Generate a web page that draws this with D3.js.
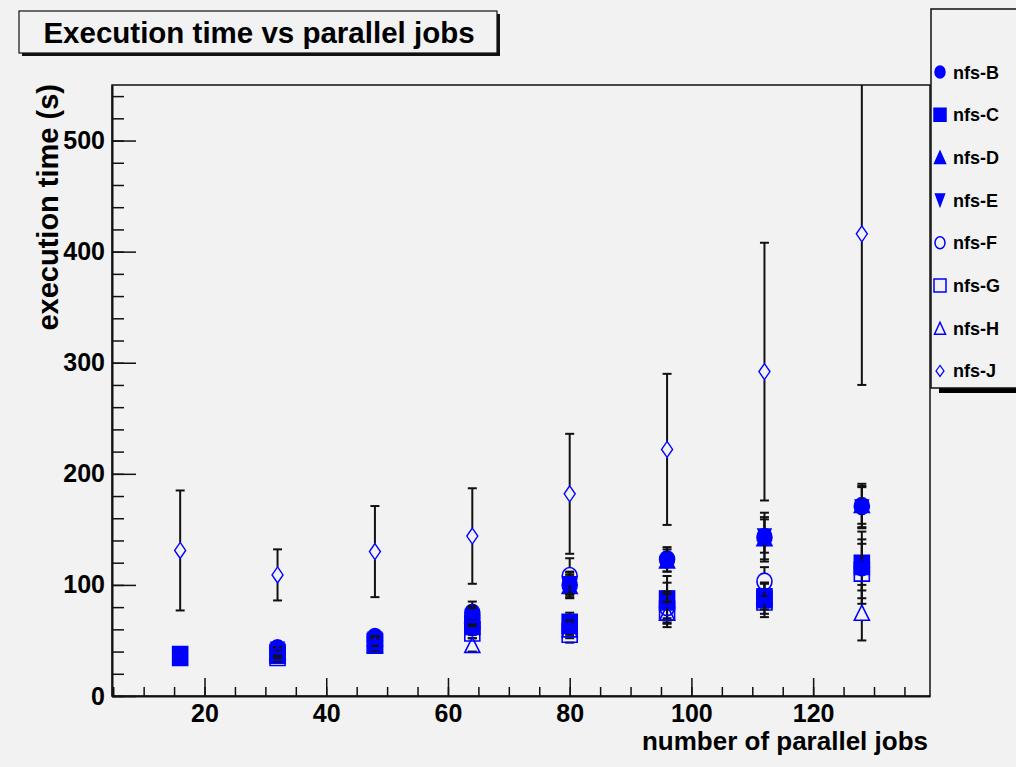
<!DOCTYPE html>
<html>
<head>
<meta charset="utf-8">
<script src="https://cdn.jsdelivr.net/npm/d3@7"></script>
<style>
  body { margin: 0; background: #f2f2f2; }
  text { font-family: "Liberation Sans", Arial, sans-serif; font-weight: bold; fill: #000; }
</style>
</head>
<body>
<div id="chart"></div>
<script>
//data
const jobs = [16, 32, 48, 64, 80, 96, 112, 128]

const nfsB = [null, 43, 53, 75, 100, 123, 143, 171]
const nfsC = [36, 38, 48, 64, 65, 86, 88, 118]
const nfsD = [null, 41, 52, 73, 99, 122, 142, 172]
const nfsE = [null, 42, 51, 71, 101, 88, 144, 170]
const nfsF = [null, 40, 50, 62, 108, 80, 103, 116]
const nfsG = [null, 36, 47, 58, 57, 77, 86, 112]
const nfsH = [null, 39, 46, 46, 60, 75, 90, 75]
const nfsJ = [131, 109, 130, 144, 182, 222, 292, 416]

const errB = [0, 6, 6, 10, 12, 11, 22, 20]
const errC = [0, 5, 8, 8, 10, 16, 14, 30]
const errD = [0, 5, 5, 8, 10, 10, 19, 17]
const errE = [0, 5, 5, 8, 10, 20, 15, 18]
const errF = [0, 4, 5, 7, 16, 14, 13, 21]
const errG = [0, 5, 7, 6, 9, 15, 15, 29]
const errH = [0, 5, 6, 6, 8, 10, 12, 25]
const errJ = [54, 23, 41, 43, 54, 68, 116, 136]

const seriesNames = ['nfs-B', 'nfs-C', 'nfs-D', 'nfs-E', 'nfs-F', 'nfs-G', 'nfs-H', 'nfs-J']
const xMajorTicks = [20, 40, 60, 80, 100, 120]
const yMajorTicks = [0, 100, 200, 300, 400, 500]

const series = [
  { name: seriesNames[0], values: nfsB, errors: errB, marker: 'circle', filled: true },
  { name: seriesNames[1], values: nfsC, errors: errC, marker: 'square', filled: true },
  { name: seriesNames[2], values: nfsD, errors: errD, marker: 'triUp', filled: true },
  { name: seriesNames[3], values: nfsE, errors: errE, marker: 'triDown', filled: true },
  { name: seriesNames[4], values: nfsF, errors: errF, marker: 'circle', filled: false },
  { name: seriesNames[5], values: nfsG, errors: errG, marker: 'square', filled: false },
  { name: seriesNames[6], values: nfsH, errors: errH, marker: 'triUp', filled: false },
  { name: seriesNames[7], values: nfsJ, errors: errJ, marker: 'diamond', filled: false },
]

//marker sizes (w, h) in the plot and in the legend
const plotSize = { circle: [15, 17], square: [15, 19], triUp: [15, 15], triDown: [13, 14], diamond: [11, 16] }
const legendSize = { circle: [10, 12], square: [12, 13], triUp: [11, 12], triDown: [9, 12], diamond: [8, 11] }

function markerPath(type, w, h) {
  const a = w / 2, b = h / 2
  if (type === 'circle') {
    return `M${-a},0A${a},${b} 0 1,0 ${a},0A${a},${b} 0 1,0 ${-a},0Z`
  } else if (type === 'square') {
    return `M${-a},${-b}H${a}V${b}H${-a}Z`
  } else if (type === 'triUp') {
    return `M0,${-b}L${a},${b}H${-a}Z`
  } else if (type === 'triDown') {
    return `M0,${b}L${a},${-b}H${-a}Z`
  }
  return `M0,${-b}L${a},0L0,${b}L${-a},0Z`
}

//dimensions
const width = 1016
const height = 767
const frame = { left: 112, right: 930, top: 85, bottom: 696 }
const blue = '#0000ff'

const svg = d3.select('#chart')
  .append('svg')
  .attr('width', width)
  .attr('height', height)

svg.append('rect')
  .attr('width', width)
  .attr('height', height)
  .attr('fill', '#f2f2f2')

//scales
const x = d3.scaleLinear()
  .domain([4.8, 139.2])
  .range([frame.left, frame.right])

const y = d3.scaleLinear()
  .domain([0, 550])
  .range([frame.bottom, frame.top])

//frame
svg.append('rect')
  .attr('x', frame.left)
  .attr('y', frame.top)
  .attr('width', frame.right - frame.left)
  .attr('height', frame.bottom - frame.top)
  .attr('fill', 'none')
  .attr('stroke', '#111')
  .attr('stroke-width', 1.5)

//axes, ticks pointing into the frame
svg.append('g')
  .attr('transform', `translate(0,${frame.bottom})`)
  .call(d3.axisBottom(x).tickValues(d3.range(5, 139, 5)).tickSizeInner(-9).tickSizeOuter(0).tickFormat(''))
  .call(g => g.select('.domain').remove())
  .call(g => g.selectAll('line').attr('stroke', '#111').attr('stroke-width', 1.5))

svg.append('g')
  .attr('transform', `translate(0,${frame.bottom})`)
  .call(d3.axisBottom(x).tickValues(xMajorTicks).tickSizeInner(-18).tickSizeOuter(0).tickPadding(8))
  .call(g => g.select('.domain').attr('stroke', '#111').attr('stroke-width', 2))
  .call(g => g.selectAll('line').attr('stroke', '#111').attr('stroke-width', 1.5))
  .call(g => g.selectAll('text').attr('font-size', 25).attr('font-family', '"Liberation Sans", Arial, sans-serif').attr('font-weight', 'bold'))

svg.append('g')
  .attr('transform', `translate(${frame.left},0)`)
  .call(d3.axisLeft(y).tickValues(d3.range(0, 551, 20)).tickSizeInner(-12).tickSizeOuter(0).tickFormat(''))
  .call(g => g.select('.domain').remove())
  .call(g => g.selectAll('line').attr('stroke', '#111').attr('stroke-width', 1.5))

svg.append('g')
  .attr('transform', `translate(${frame.left},0)`)
  .call(d3.axisLeft(y).tickValues(yMajorTicks).tickSizeInner(-24).tickSizeOuter(0).tickPadding(7))
  .call(g => g.select('.domain').attr('stroke', '#111').attr('stroke-width', 2))
  .call(g => g.selectAll('line').attr('stroke', '#111').attr('stroke-width', 1.5))
  .call(g => g.selectAll('text').attr('font-size', 25).attr('font-family', '"Liberation Sans", Arial, sans-serif').attr('font-weight', 'bold'))

//axis titles
svg.append('text')
  .attr('x', frame.right - 2)
  .attr('y', 750)
  .attr('text-anchor', 'end')
  .attr('font-size', 26)
  .text('number of parallel jobs')

svg.append('text')
  .attr('transform', `translate(58,${frame.top - 1}) rotate(-90)`)
  .attr('text-anchor', 'end')
  .attr('font-size', 29)
  .text('execution time (s)')

//points with error bars, one graph after the other
svg.append('clipPath')
  .attr('id', 'clip')
  .append('rect')
  .attr('x', frame.left)
  .attr('y', frame.top)
  .attr('width', frame.right - frame.left)
  .attr('height', frame.bottom - frame.top)

const plot = svg.append('g').attr('clip-path', 'url(#clip)')

series.forEach(s => {
  const [w, h] = plotSize[s.marker]
  const pts = jobs.map((j, i) => ({ j, v: s.values[i], e: s.errors[i] }))
    .filter(p => p.v !== null)

  const g = plot.append('g')

  const bars = g.selectAll('g.err')
    .data(pts.filter(p => p.e > 0))
    .join('g')
    .attr('stroke', '#111')
    .attr('stroke-width', 2)

  bars.append('line')
    .attr('x1', p => x(p.j))
    .attr('x2', p => x(p.j))
    .attr('y1', p => y(p.v + p.e))
    .attr('y2', p => Math.max(y(p.v + p.e), y(p.v) - h / 2))

  bars.append('line')
    .attr('x1', p => x(p.j))
    .attr('x2', p => x(p.j))
    .attr('y1', p => Math.min(y(p.v - p.e), y(p.v) + h / 2))
    .attr('y2', p => y(p.v - p.e))

  bars.selectAll('line.cap')
    .data(p => [[p.j, p.v + p.e], [p.j, p.v - p.e]])
    .join('line')
    .attr('class', 'cap')
    .attr('x1', d => x(d[0]) - 4.5)
    .attr('x2', d => x(d[0]) + 4.5)
    .attr('y1', d => y(d[1]))
    .attr('y2', d => y(d[1]))

  g.selectAll('path.marker')
    .data(pts)
    .join('path')
    .attr('class', 'marker')
    .attr('transform', p => `translate(${x(p.j)},${y(p.v)})`)
    .attr('d', markerPath(s.marker, w, h))
    .attr('fill', s.filled ? blue : 'none')
    .attr('stroke', blue)
    .attr('stroke-width', s.marker === 'diamond' ? 1.4 : 1.6)
})

//title box
svg.append('rect')
  .attr('x', 22).attr('y', 14)
  .attr('width', 478).attr('height', 42)
  .attr('fill', '#111')
svg.append('rect')
  .attr('x', 19).attr('y', 11)
  .attr('width', 478).attr('height', 42)
  .attr('fill', '#f2f2f2')
  .attr('stroke', '#111')
  .attr('stroke-width', 1.2)
svg.append('text')
  .attr('x', 259)
  .attr('y', 43)
  .attr('text-anchor', 'middle')
  .attr('font-size', 29.5)
  .text('Execution time vs parallel jobs')

//legend
svg.append('rect')
  .attr('x', 939).attr('y', 14)
  .attr('width', 100).attr('height', 379)
  .attr('fill', '#000')
svg.append('rect')
  .attr('x', 931).attr('y', 9)
  .attr('width', 100).attr('height', 379)
  .attr('fill', '#f2f2f2')
  .attr('stroke', '#111')
  .attr('stroke-width', 1.5)

const legend = svg.append('g')
  .selectAll('g')
  .data(series)
  .join('g')
  .attr('transform', (d, i) => `translate(940,${72 + i * 42.7})`)

legend.append('path')
  .attr('d', d => markerPath(d.marker, ...legendSize[d.marker]))
  .attr('fill', d => d.filled ? blue : 'none')
  .attr('stroke', blue)
  .attr('stroke-width', d => d.marker === 'diamond' ? 1.2 : 1.5)

legend.append('text')
  .attr('x', 13)
  .attr('y', 6.5)
  .attr('font-size', 18)
  .text(d => d.name)
</script>
</body>
</html>
